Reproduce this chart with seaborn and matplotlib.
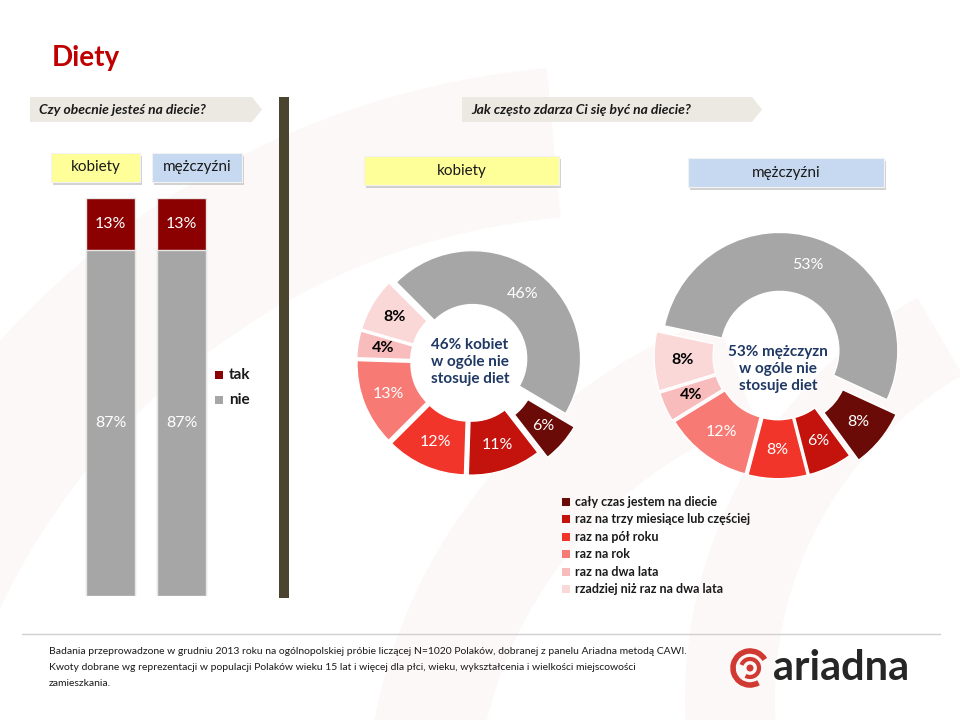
import numpy as np
import matplotlib.pyplot as plt
import seaborn as sns
from matplotlib.patches import Polygon, Rectangle, Arc, Circle

# --- data ---
bar_groups = ['kobiety', 'mężczyźni']
bar_tak = [13, 13]
bar_nie = [87, 87]

freq_labels = ['cały czas jestem na diecie', 'raz na trzy miesiące lub częściej',
               'raz na pół roku', 'raz na rok', 'raz na dwa lata',
               'rzadziej niż raz na dwa lata']
women_freq = [6, 11, 12, 13, 4, 8]
men_freq = [8, 6, 8, 12, 4, 8]
women_never = 46
men_never = 53

RED_BAR = '#8b0000'
GRAY = '#a6a6a6'
freq_colors = ['#6b0b07', '#c4120c', '#f2352b', '#f77a75', '#f8bcbc', '#fad8d8']
TXT = '#1a1a1a'
NAVY = '#1f3864'

sns.set_style('white')
plt.rcParams['font.family'] = ['Lato', 'DejaVu Sans']

fig = plt.figure(figsize=(9.6, 7.2), dpi=100)
W, H = 960, 720


def rect(left, top, w, h):
    return [left / W, 1 - (top + h) / H, w / W, h / H]


# background canvas in pixel coords
bg = fig.add_axes([0, 0, 1, 1])
bg.set_xlim(0, W)
bg.set_ylim(H, 0)
bg.axis('off')

# faint watermark swooshes
for (cx, cy, r, wd, t1, t2) in [(620, 900, 760, 150, 95, 160), (900, 820, 480, 110, 110, 175),
                               (1150, 700, 420, 90, 120, 185)]:
    bg.add_patch(Arc((cx, cy), 2 * r, 2 * r, theta1=-t2, theta2=-t1, lw=wd * 0.72,
                     color='#fdf8f8', zorder=0))

bg.text(52, 58, 'Diety', fontsize=20, fontweight='bold', color='#c00000', va='center')


def banner(x0, x1, y0, y1, text):
    tip = 10
    pts = [(x0, y0), (x1 - tip, y0), (x1, (y0 + y1) / 2), (x1 - tip, y1), (x0, y1)]
    bg.add_patch(Polygon(pts, closed=True, fc='#ebe9e2', ec='none', zorder=1))
    bg.text(x0 + 9, (y0 + y1) / 2, text, fontsize=10, fontweight='bold', style='italic',
            color=TXT, va='center', zorder=2)


banner(30, 262, 97, 122, 'Czy obecnie jesteś na diecie?')
banner(462, 762, 97, 122, 'Jak często zdarza Ci się być na diecie?')


def header(x0, x1, y0, y1, text, color):
    bg.add_patch(Rectangle((x0 + 1.5, y0 + 2.5), x1 - x0, y1 - y0, fc='#bfbfbf', ec='none',
                           alpha=0.7, zorder=1))
    bg.add_patch(Rectangle((x0, y0), x1 - x0, y1 - y0, fc=color, ec='#f2f2f2', lw=0.8, zorder=2))
    bg.text((x0 + x1) / 2, (y0 + y1) / 2, text, fontsize=11, color=TXT, ha='center',
            va='center', zorder=3)


header(51, 140, 153, 182, 'kobiety', '#ffff99')
header(152, 242, 153, 182, 'mężczyźni', '#c6d9f0')
header(364, 559, 156, 185, 'kobiety', '#ffff99')
header(688, 884, 158, 187, 'mężczyźni', '#c6d9f0')

# divider
bg.add_patch(Rectangle((279, 97), 10, 501, fc='#4b4530', ec='none', zorder=2))

# --- stacked bars ---
ax_bar = fig.add_axes(rect(75, 198, 142, 398))
totals = [t + n for t, n in zip(bar_tak, bar_nie)]
sns.barplot(x=bar_groups, y=totals, color=RED_BAR, saturation=1, width=0.69, ax=ax_bar)
sns.barplot(x=bar_groups, y=bar_nie, color=GRAY, saturation=1, width=0.69, ax=ax_bar)
for p in ax_bar.patches:
    p.set_edgecolor('#e6e6e6')
    p.set_linewidth(1)
ax_bar.set_xlim(-0.5, 1.5)
ax_bar.set_ylim(0, 100)
ax_bar.axis('off')
for i, (t, n) in enumerate(zip(bar_tak, bar_nie)):
    ax_bar.text(i, n + t / 2, f'{t}%', color='white', fontsize=11.5, ha='center', va='center')
    ax_bar.text(i, n / 2, f'{n}%', color='white', fontsize=11.5, ha='center', va='center')

for y, lab, c in [(375, 'tak', RED_BAR), (400, 'nie', GRAY)]:
    bg.add_patch(Rectangle((215, y - 4), 8, 8, fc=c, ec='none', zorder=2))
    bg.text(229, y, lab, fontsize=11, fontweight='bold', color=TXT, va='center', zorder=2)


# --- donuts ---
def donut(cx, cy, R, never, freq, startangle, explode, center_text, text_dy):
    ax = fig.add_axes(rect(cx - 1.3 * R, cy - 1.3 * R, 2.6 * R, 2.6 * R))
    values = [never] + freq
    colors = [GRAY] + freq_colors
    wedges, _ = ax.pie(values, colors=colors, explode=explode, startangle=startangle,
                       counterclock=False, radius=1,
                       wedgeprops=dict(width=0.5, edgecolor='white', linewidth=1))
    ax.set_xlim(-1.3, 1.3)
    ax.set_ylim(-1.3, 1.3)
    ax.set_aspect('equal')
    ax.axis('off')
    for k, (w, v, ex) in enumerate(zip(wedges, values, explode)):
        ang = np.deg2rad((w.theta1 + w.theta2) / 2)
        r = 0.76 + ex
        col = 'black' if k >= 5 else 'white'
        ax.text(r * np.cos(ang), r * np.sin(ang), f'{v}%', color=col, fontsize=11.5,
                fontweight='bold' if k >= 5 else 'normal', ha='center', va='center')
    ax.text(0, text_dy, center_text, color=NAVY, fontsize=11, fontweight='bold',
            ha='center', va='center', linespacing=1.3)


donut(470, 362, 108, women_never, women_freq, 135,
      [0.04, 0.14, 0.05, 0.05, 0.05, 0.05, 0.05],
      f'{women_never}% kobiet\nw ogóle nie\nstosuje diet', 0.0)
donut(778, 356, 118, men_never, men_freq, 168,
      [0.05, 0.12, 0.04, 0.04, 0.04, 0.05, 0.05],
      f'{men_never}% mężczyzn\nw ogóle nie\nstosuje diet', -0.11)

# donut legend
for k, (lab, c) in enumerate(zip(freq_labels, freq_colors)):
    y = 502 + k * 17.4
    bg.add_patch(Rectangle((562, y - 4), 8, 8, fc=c, ec='none', zorder=2))
    bg.text(575, y, lab, fontsize=9, fontweight='bold', color=TXT, va='center', zorder=2)

# footer
bg.plot([22, 940], [634, 634], color='#d0d0d0', lw=1, zorder=2)
footer = ['Badania przeprowadzone w grudniu 2013 roku na ogólnopolskiej próbie liczącej N=1020 Polaków, dobranej z panelu Ariadna metodą CAWI.',
          'Kwoty dobrane wg reprezentacji w populacji Polaków wieku 15 lat i więcej dla płci, wieku, wykształcenia i wielkości miejscowości',
          'zamieszkania.']
for k, line in enumerate(footer):
    bg.text(49, 652 + k * 15.5, line, fontsize=7.5, color=TXT, va='center', zorder=2)

# logo
bg.add_patch(Arc((750, 668), 34, 34, theta1=60, theta2=330, lw=4, color='#d13a32', zorder=2))
bg.add_patch(Arc((750, 668), 18, 18, theta1=200, theta2=120, lw=3, color='#d13a32', zorder=2))
bg.add_patch(Circle((750, 668), 3.5, fc='#d13a32', ec='none', zorder=2))
bg.text(773, 668, 'ariadna', fontsize=30, fontweight='bold', color='#262626', va='center', zorder=2)

fig.savefig('out.png', dpi=100)
